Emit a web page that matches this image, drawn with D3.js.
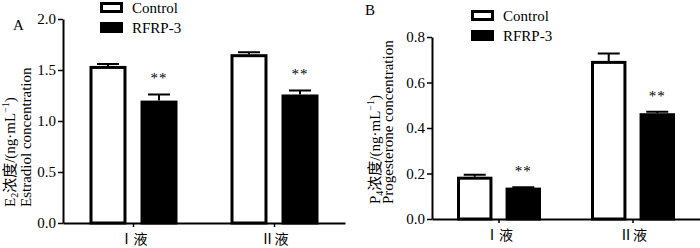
<!DOCTYPE html>
<html>
<head>
<meta charset="utf-8">
<script src="https://cdn.jsdelivr.net/npm/d3@7"></script>
<style>
  body { margin: 0; background: #fff; }
</style>
</head>
<body>
<div id="chart"></div>
<script>
"use strict";

// == DATA ==
var categories = ["Ⅰ液", "Ⅱ液"];
var series = ["Control", "RFRP-3"];
var tickA = [0, 0.5, 1.0, 1.5, 2.0];
var tickB = [0, 0.2, 0.4, 0.6, 0.8];

// estradiol (panel A)
var e2Control = [1.54, 1.655];
var e2ControlErr = [0.02, 0.02];
var e2Rfrp = [1.20, 1.26];
var e2RfrpErr = [0.06, 0.04];

// progesterone (panel B)
var p4Control = [0.186, 0.695];
var p4ControlErr = [0.009, 0.033];
var p4Rfrp = [0.138, 0.465];
var p4RfrpErr = [0.002, 0.006];

var sigA = ["**", "**"];
var sigB = ["**", "**"];

var SERIF = "'Liberation Serif', 'Noto Sans CJK SC'";
var CJK = "'Noto Sans CJK SC'";

var svg = d3.select("#chart")
            .append("svg")
            .attr("width", 700)
            .attr("height", 248);

var drawPanel = function(opt) {
  var g = svg.append("g");

  var y = d3.scaleLinear()
            .domain(opt.yDomain)
            .range([opt.bottom, opt.top]);

  var x0 = d3.scaleBand()
             .domain(categories)
             .range([opt.left, opt.right]);

  var x1 = d3.scaleBand()
             .domain(series)
             .range([opt.inner, x0.bandwidth() - opt.inner])
             .paddingInner(opt.gap);

  var rows = [];
  categories.forEach(function(c, i) {
    rows.push({ cat: c, s: "Control", v: opt.control[i], e: opt.controlErr[i] });
    rows.push({ cat: c, s: "RFRP-3", v: opt.rfrp[i], e: opt.rfrpErr[i], sig: opt.sig[i] });
  });

  // error bars (upper only)
  var cap = 11;
  g.selectAll(".err")
   .data(rows)
   .enter()
   .append("path")
   .attr("d", function(d) {
     var cx = x0(d.cat) + x1(d.s) + x1.bandwidth() / 2;
     return "M" + cx + "," + y(d.v) + "V" + y(d.v + d.e) +
            "M" + (cx - cap) + "," + y(d.v + d.e) + "H" + (cx + cap);
   })
   .attr("fill", "none")
   .attr("stroke", "#000")
   .attr("stroke-width", 2);

  // bars
  var sw = 3;
  g.selectAll(".bar")
   .data(rows)
   .enter()
   .append("rect")
   .attr("x", function(d) { return x0(d.cat) + x1(d.s) + sw / 2; })
   .attr("y", function(d) { return y(d.v) + sw / 2; })
   .attr("width", x1.bandwidth() - sw)
   .attr("height", function(d) { return y(0) - y(d.v) - sw / 2; })
   .attr("fill", function(d) { return d.s === "Control" ? "#fff" : "#000"; })
   .attr("stroke", "#000")
   .attr("stroke-width", sw);

  // significance marks
  g.selectAll(".sig")
   .data(rows.filter(function(d) { return d.sig; }))
   .enter()
   .append("text")
   .attr("x", function(d) { return x0(d.cat) + x1(d.s) + x1.bandwidth() / 2; })
   .attr("y", function(d) { return y(d.v + d.e) - 11; })
   .attr("text-anchor", "middle")
   .attr("fill", "#000")
   .style("font-family", SERIF)
   .style("font-size", "15px")
   .attr("letter-spacing", 1)
   .text(function(d) { return d.sig; });

  // axes
  var yAxis = d3.axisLeft(y)
                .tickValues(opt.ticks)
                .tickFormat(d3.format(".1f"))
                .tickSize(5)
                .tickSizeOuter(0)
                .tickPadding(2);
  var ya = g.append("g")
            .attr("transform", "translate(" + opt.left + ",0)")
            .call(yAxis);

  var xAxis = d3.axisBottom(x0)
                .tickSize(4)
                .tickSizeOuter(0)
                .tickPadding(opt.xPad);
  var xa = g.append("g")
            .attr("transform", "translate(0," + opt.bottom + ")")
            .call(xAxis);

  [ya, xa].forEach(function(a) {
    a.select(".domain").attr("stroke-width", 2);
    a.selectAll(".tick line").attr("stroke-width", 1.5);
    a.selectAll("text")
     .attr("fill", "#000")
     .style("font-family", SERIF)
     .style("font-size", "15px");
  });
  xa.selectAll("text")
    .attr("dy", 0)
    .style("font-family", CJK)
    .style("font-size", "14px");

  // y title (two lines, rotated)
  var t1 = g.append("text")
            .attr("transform", "translate(" + opt.t1x + "," + opt.tBase + ") rotate(-90)")
            .style("font-family", SERIF)
            .style("font-size", "15px");
  t1.append("tspan").text(opt.sym);
  t1.append("tspan").style("font-size", "10px").attr("dy", 3).text(opt.sub);
  t1.append("tspan").attr("dy", -3).text("浓度/(ng·mL");
  t1.append("tspan").style("font-size", "10px").attr("dy", -6).text("−1");
  t1.append("tspan").attr("dy", 6).text(")");

  g.append("text")
   .attr("transform", "translate(" + opt.t2x + "," + opt.tBase + ") rotate(-90)")
   .style("font-family", SERIF)
   .style("font-size", "15px")
   .text(opt.name);

  // panel letter
  g.append("text")
   .attr("x", opt.letterX)
   .attr("y", opt.letterY)
   .style("font-family", SERIF)
   .style("font-size", "15px")
   .text(opt.letter);

  // legend
  var leg = g.selectAll(".leg")
             .data(series)
             .enter()
             .append("g")
             .attr("transform", function(d, i) {
               return "translate(" + opt.legX + "," + (opt.legY + i * opt.legStep) + ")";
             });
  leg.append("rect")
     .attr("x", 1.5)
     .attr("y", 1.5)
     .attr("width", 20)
     .attr("height", 8)
     .attr("fill", function(d) { return d === "Control" ? "#fff" : "#000"; })
     .attr("stroke", "#000")
     .attr("stroke-width", 3);
  leg.append("text")
     .attr("x", 32)
     .attr("y", 10.5)
     .style("font-family", SERIF)
     .style("font-size", "15px")
     .text(function(d) { return d; });
};

drawPanel({
  yDomain: [0, 2], top: 19, bottom: 223, left: 63, right: 345,
  inner: 26.5, gap: 0.275, ticks: tickA, xPad: 17,
  control: e2Control, controlErr: e2ControlErr,
  rfrp: e2Rfrp, rfrpErr: e2RfrpErr, sig: sigA,
  sym: "E", sub: "2", name: "Estradiol concentration",
  t1x: 15, t2x: 31, tBase: 207,
  letter: "A", letterX: 13, letterY: 30,
  legX: 100, legY: 2, legStep: 20
});

drawPanel({
  yDomain: [0, 0.8], top: 37, bottom: 219, left: 432, right: 700,
  inner: 25, gap: 0.27, ticks: tickB, xPad: 17,
  control: p4Control, controlErr: p4ControlErr,
  rfrp: p4Rfrp, rfrpErr: p4RfrpErr, sig: sigB,
  sym: "P", sub: "4", name: "Progesterone concentration",
  t1x: 380, t2x: 393, tBase: 204,
  letter: "B", letterX: 365, letterY: 15,
  legX: 471, legY: 10, legStep: 20
});
</script>
</body>
</html>
